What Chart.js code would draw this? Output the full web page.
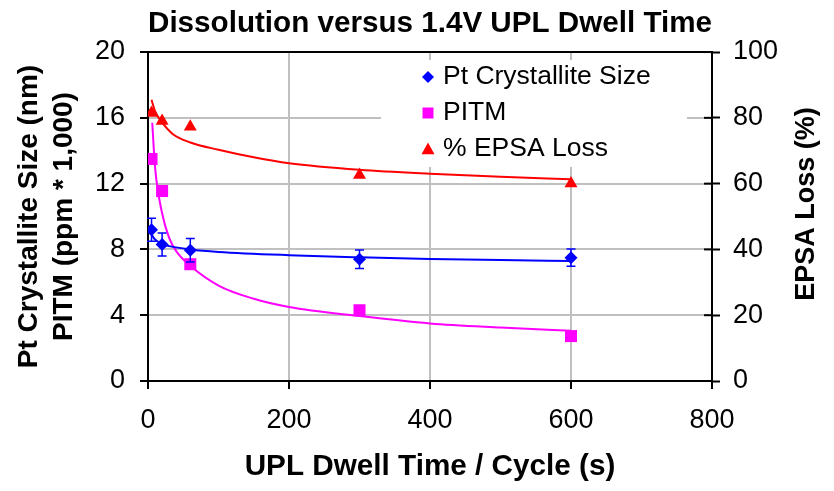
<!DOCTYPE html>
<html>
<head>
<meta charset="utf-8">
<script src="https://cdn.jsdelivr.net/npm/chart.js@4.4.0/dist/chart.umd.min.js"></script>
<style>
  html, body { margin: 0; padding: 0; background: #fff; }
  #wrap { width: 834px; height: 491px; }
</style>
</head>
<body>
<div id="wrap"><canvas id="dissolutionChart"></canvas></div>
<script>
// measured points (dwell time in s)
const dwellTimes = [5, 20, 60, 300, 600];
const ptSize = [9.2, 8.3, 7.95, 7.4, 7.5];          // nm
const ptSizeErr = [0.7, 0.7, 0.72, 0.56, 0.53];     // +/- nm
const pitm = [13.5, 11.55, 7.1, 4.3, 2.73];         // ppm * 1,000
const epsaLoss = [81.5, 79, 77.3, 62.6, 60];        // %

// trend lines
const ptTrendX = [5, 10, 20, 30, 60, 100, 200, 300, 400, 500, 600];
const ptTrendY = [8.9, 8.6, 8.33, 8.2, 8.0, 7.85, 7.65, 7.52, 7.42, 7.35, 7.3];
const pitmTrendX = [6, 10, 20, 30, 40, 60, 100, 150, 200, 300, 400, 500, 600];
const pitmTrendY = [15.7, 13.0, 10.2, 8.7, 7.9, 7.0, 5.8, 5.0, 4.5, 3.95, 3.5, 3.25, 3.05];
const epsaTrendX = [5, 10, 20, 35, 60, 100, 150, 200, 300, 400, 500, 600];
const epsaTrendY = [85.5, 82, 78.6, 75.1, 72.5, 70.3, 68.0, 66.2, 64.2, 63.0, 62.1, 61.3];

const legendLabels = ['Pt Crystallite Size', 'PITM', '% EPSA Loss'];

const BLUE = '#0000ff', MAGENTA = '#ff00ff', RED = '#ff0000';
const FONT = 'Liberation Sans, Arial, sans-serif';
Chart.defaults.font.family = FONT;
Chart.defaults.color = '#000';

function pts(xs, ys) {
  return xs.map((x, i) => ({ x: x, y: ys[i] }));
}

// small marker helper (legend)
function marker(ctx, style, x, y, r, color) {
  ctx.save();
  ctx.fillStyle = color;
  ctx.beginPath();
  if (style === 'rectRot') {
    ctx.moveTo(x - r, y); ctx.lineTo(x, y - r); ctx.lineTo(x + r, y); ctx.lineTo(x, y + r);
  } else if (style === 'rect') {
    ctx.rect(x - r, y - r, 2 * r, 2 * r);
  } else {
    ctx.moveTo(x, y - r); ctx.lineTo(x + r, y + r * 0.8); ctx.lineTo(x - r, y + r * 0.8);
  }
  ctx.closePath();
  ctx.fill();
  ctx.restore();
}

// error bars on the crystallite size points
const errorBars = {
  id: 'errorBars',
  afterDatasetsDraw(chart) {
    const ctx = chart.ctx, xs = chart.scales.x, ys = chart.scales.y;
    ctx.save();
    ctx.strokeStyle = BLUE;
    ctx.lineWidth = 1.5;
    dwellTimes.forEach((t, i) => {
      const px = xs.getPixelForValue(t);
      const top = ys.getPixelForValue(ptSize[i] + ptSizeErr[i]);
      const bot = ys.getPixelForValue(ptSize[i] - ptSizeErr[i]);
      ctx.beginPath();
      ctx.moveTo(px, top); ctx.lineTo(px, bot);
      ctx.moveTo(px - 4.5, top); ctx.lineTo(px + 4.5, top);
      ctx.moveTo(px - 4.5, bot); ctx.lineTo(px + 4.5, bot);
      ctx.stroke();
    });
    ctx.restore();
  }
};

// legend box inside the plot + right axis title + inner ticks of the right axis
const extras = {
  id: 'extras',
  beforeDatasetsDraw(chart) {
    const ctx = chart.ctx;
    ctx.save();
    ctx.fillStyle = '#fff';
    ctx.fillRect(381, 60, 306, 107);
    const styles = [['rectRot', 6, BLUE], ['rect', 5.5, MAGENTA], ['triangle', 6.5, RED]];
    ctx.font = '26.5px ' + FONT;
    ctx.textBaseline = 'middle';
    ctx.textAlign = 'left';
    legendLabels.forEach((lab, i) => {
      const y = 77 + i * 36;
      marker(ctx, styles[i][0], 428, y, styles[i][1], styles[i][2]);
      ctx.fillStyle = '#000';
      ctx.fillText(lab, 443, y);
    });
    ctx.restore();
  },
  afterDraw(chart) {
    const ctx = chart.ctx, y1 = chart.scales.y1;
    ctx.save();
    ctx.strokeStyle = '#000';
    ctx.lineWidth = 2;
    y1.ticks.forEach(t => {
      const py = y1.getPixelForValue(t.value);
      ctx.beginPath();
      ctx.moveTo(y1.left - 8, py); ctx.lineTo(y1.left, py);
      ctx.stroke();
    });
    ctx.translate(807, 204);
    ctx.rotate(-Math.PI / 2);
    ctx.font = 'bold 27px ' + FONT;
    ctx.fillStyle = '#000';
    ctx.textAlign = 'center';
    ctx.textBaseline = 'middle';
    ctx.fillText('EPSA Loss (%)', 0, 0);
    ctx.restore();
  }
};

const canvas = document.getElementById('dissolutionChart');

new Chart(canvas, {
  type: 'scatter',
  data: {
    datasets: [
      { label: legendLabels[0], data: pts(dwellTimes, ptSize), yAxisID: 'y',
        pointStyle: 'rectRot', pointRadius: 6.5, backgroundColor: BLUE, borderColor: BLUE, pointBorderWidth: 0 },
      { label: legendLabels[1], data: pts(dwellTimes, pitm), yAxisID: 'y',
        pointStyle: 'rect', pointRadius: 8.5, backgroundColor: MAGENTA, borderColor: MAGENTA, pointBorderWidth: 0 },
      { label: legendLabels[2], data: pts(dwellTimes, epsaLoss), yAxisID: 'y1',
        pointStyle: 'triangle', pointRadius: 7.5, backgroundColor: RED, borderColor: RED, pointBorderWidth: 0 },
      { label: 'size trend', data: pts(ptTrendX, ptTrendY), yAxisID: 'y', showLine: true,
        pointRadius: 0, borderColor: BLUE, borderWidth: 2, cubicInterpolationMode: 'monotone' },
      { label: 'pitm trend', data: pts(pitmTrendX, pitmTrendY), yAxisID: 'y', showLine: true,
        pointRadius: 0, borderColor: MAGENTA, borderWidth: 2, cubicInterpolationMode: 'monotone' },
      { label: 'epsa trend', data: pts(epsaTrendX, epsaTrendY), yAxisID: 'y1', showLine: true,
        pointRadius: 0, borderColor: RED, borderWidth: 2, cubicInterpolationMode: 'monotone' }
    ]
  },
  options: {
    responsive: true,
    maintainAspectRatio: false,
    animation: false,
    layout: { padding: 0 },
    plugins: {
      legend: { display: false },
      tooltip: { enabled: false },
      title: {
        display: true,
        text: 'Dissolution versus 1.4V UPL Dwell Time',
        fullSize: false,
        color: '#000',
        font: { size: 29.7, weight: 'bold', lineHeight: 1.2 },
        padding: { top: 5.5, bottom: 10.9 }
      }
    },
    scales: {
      x: {
        type: 'linear', min: 0, max: 800,
        ticks: { stepSize: 200, font: { size: 27 }, padding: 15, maxRotation: 0 },
        grid: { color: '#c0c0c0', lineWidth: 2, tickColor: '#000', tickLength: 8, tickWidth: 2 },
        border: { color: '#000', width: 2 },
        title: { display: true, text: 'UPL Dwell Time / Cycle (s)',
          font: { size: 29.7, weight: 'bold', lineHeight: 1.2 }, padding: { top: 0, bottom: 6 } },
        afterFit(s) { s.height = 110; }
      },
      y: {
        position: 'left', min: 0, max: 20,
        ticks: { stepSize: 4, font: { size: 27 }, padding: 15 },
        grid: { color: c => (c.tick && c.tick.value === 20 ? '#000' : '#c0c0c0'),
          lineWidth: 2, tickColor: '#000', tickLength: 8, tickWidth: 2 },
        border: { color: '#000', width: 2 },
        title: { display: true, text: ['Pt Crystallite Size (nm)', 'PITM (ppm * 1,000)'],
          font: { size: 28, weight: 'bold', lineHeight: 1.28 }, padding: { top: 11, bottom: 0 } },
        afterFit(s) { s.width = 148; }
      },
      y1: {
        position: 'right', min: 0, max: 100,
        ticks: { stepSize: 20, font: { size: 27 }, padding: 13 },
        grid: { drawOnChartArea: false, tickColor: '#000', tickLength: 8, tickWidth: 2 },
        border: { color: '#000', width: 2 },
        afterFit(s) { s.width = 122; }
      }
    }
  },
  plugins: [errorBars, extras]
});
</script>
</body>
</html>
